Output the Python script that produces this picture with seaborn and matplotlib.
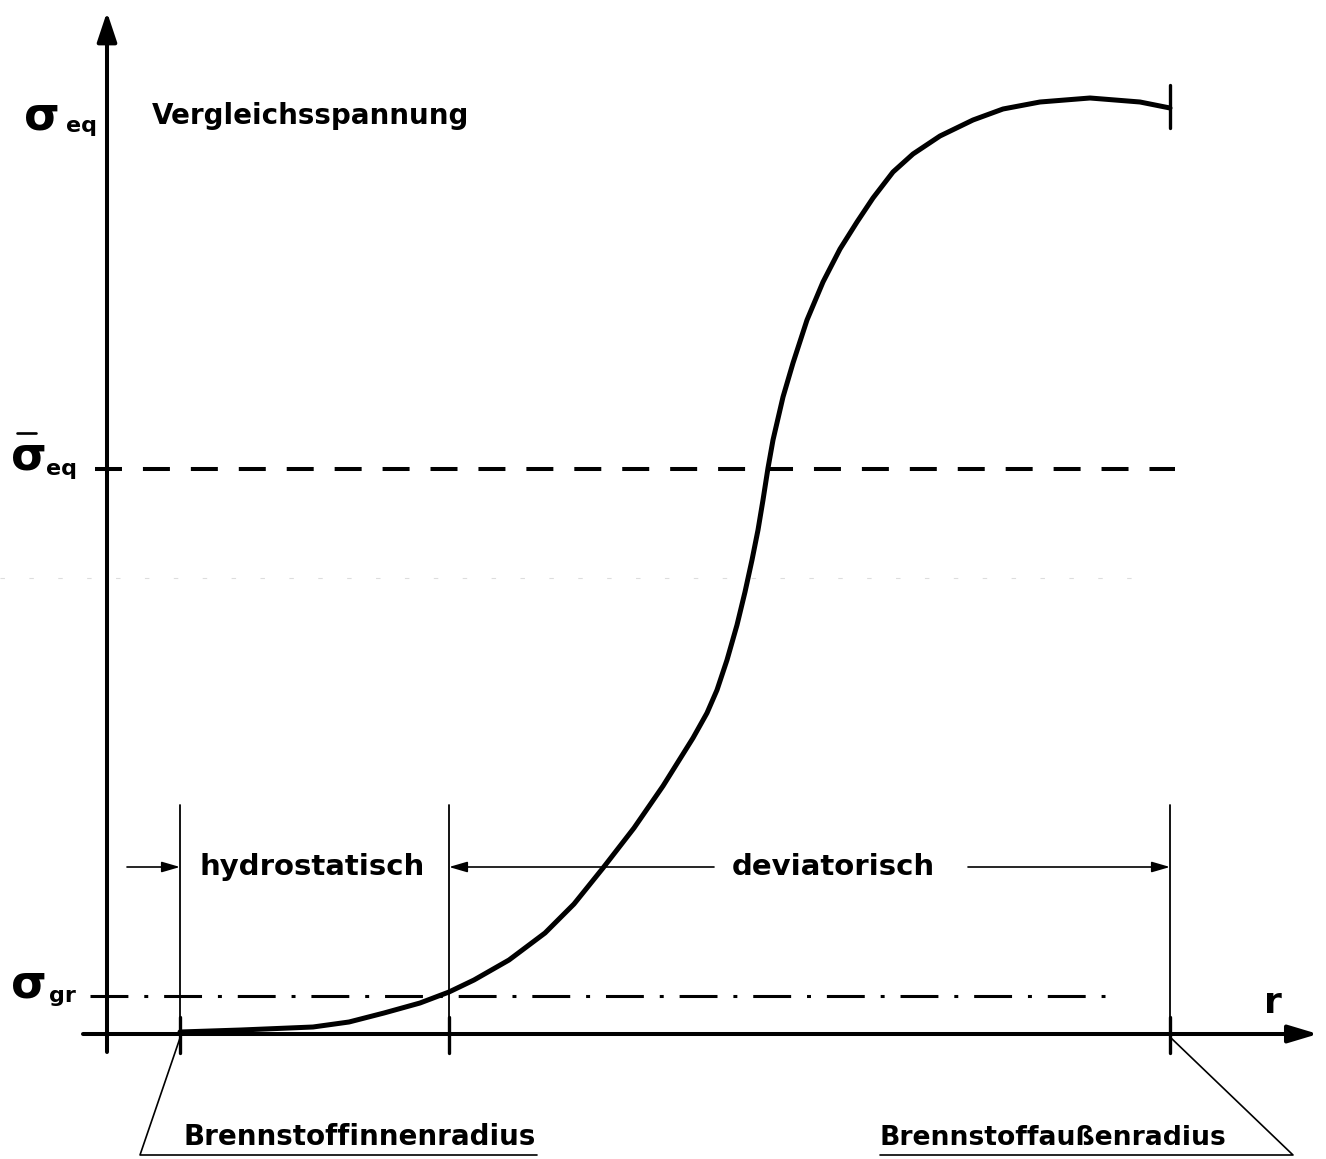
import matplotlib
matplotlib.use("Agg")
import matplotlib.pyplot as plt
import pandas as pd
import seaborn as sns

# ---------------- data (r and sigma in diagram units) ----------------
r_curve = [0.73, 1.34, 2.06, 2.42, 2.77, 3.13, 3.42, 3.67, 4.02, 4.38, 4.67,
           4.96, 5.27, 5.56, 5.86, 6.00, 6.10, 6.20, 6.30, 6.38, 6.45, 6.51,
           6.56, 6.61, 6.66, 6.76, 6.86, 7.00, 7.16, 7.33, 7.50, 7.66, 7.86,
           8.06, 8.33, 8.66, 8.96, 9.33, 9.83, 10.33, 10.63]
sigma_curve = [0.02, 0.04, 0.07, 0.12, 0.21, 0.31, 0.42, 0.54, 0.74, 1.01, 1.30,
               1.66, 2.06, 2.48, 2.96, 3.21, 3.44, 3.74, 4.09, 4.42, 4.74, 5.04,
               5.34, 5.66, 5.94, 6.37, 6.71, 7.14, 7.52, 7.85, 8.12, 8.36, 8.62,
               8.80, 8.98, 9.14, 9.25, 9.32, 9.36, 9.32, 9.26]

r_inner = 0.73        # Brennstoffinnenradius
r_boundary = 3.42     # hydrostatisch / deviatorisch boundary
r_outer = 10.63       # Brennstoffaußenradius
sigma_eq_mean = 5.65  # mean equivalent stress
sigma_gr = 0.38       # limit stress

title_text = "Vergleichsspannung"
zone_labels = ["hydrostatisch", "deviatorisch"]
radius_labels = ["Brennstoffinnenradius", "Brennstoffaußenradius"]
axis_label_r = "r"

# ---------------- figure ----------------
sns.set_theme(style="white")
plt.rcParams['font.family'] = ['DejaVu Sans']

fig = plt.figure(figsize=(13.26, 11.59), dpi=100)
ax = fig.add_axes([0, 0, 1, 1])
ax.set_xlim(-1.07, 12.19)
ax.set_ylim(-1.25, 10.34)
ax.axis('off')

# curve
df = pd.DataFrame({"r": r_curve, "sigma": sigma_curve})
sns.lineplot(data=df, x="r", y="sigma", sort=False, estimator=None,
             color="black", lw=3.6, ax=ax, solid_capstyle="round",
             solid_joinstyle="round")

# axes with arrows
ax.annotate("", xy=(0, 10.22), xytext=(0, -0.18),
            arrowprops=dict(arrowstyle="-|>,head_length=0.6,head_width=0.2",
                            lw=2.9, color="black", mutation_scale=30,
                            shrinkA=0, shrinkB=0))
ax.annotate("", xy=(12.11, 0), xytext=(-0.24, 0),
            arrowprops=dict(arrowstyle="-|>,head_length=0.6,head_width=0.18",
                            lw=2.9, color="black", mutation_scale=30,
                            shrinkA=0, shrinkB=0))

# reference lines
ax.plot([-0.12, r_outer + 0.05], [sigma_eq_mean, sigma_eq_mean], color="black",
        lw=2.9, dashes=(6.7, 5.2), solid_capstyle="butt")
ax.plot([-0.17, 9.98], [sigma_gr, sigma_gr], color="black", lw=2.2,
        dashes=(12.4, 5.2, 1.3, 5.2))
# faint scan line
ax.plot([-1.07, 10.3], [4.56, 4.56], color="#dddddd", lw=0.8, dashes=(4, 22))

# vertical region lines
for rv in [r_inner, r_boundary, r_outer]:
    ax.plot([rv, rv], [-0.19, 2.29], color="black", lw=1.3)
    ax.plot([rv, rv], [-0.19, 0.17], color="black", lw=2.4)
# end marker at outer radius
ax.plot([r_outer, r_outer], [9.06, 9.49], color="black", lw=2.4)

# zone arrows
arrow_kw = dict(arrowstyle="-|>,head_length=0.55,head_width=0.16", lw=1.2,
                color="black", mutation_scale=20, shrinkA=0, shrinkB=0)
y_arr = 1.67
ax.annotate("", xy=(r_inner, y_arr), xytext=(0.20, y_arr), arrowprops=arrow_kw)
ax.annotate("", xy=(r_boundary, y_arr), xytext=(6.07, y_arr), arrowprops=arrow_kw)
ax.annotate("", xy=(r_outer, y_arr), xytext=(8.61, y_arr), arrowprops=arrow_kw)

txt = dict(color="black", fontweight="bold", va="baseline")
ax.text(2.05, 1.59, zone_labels[0], fontsize=21, ha="center", **txt)
ax.text(7.26, 1.59, zone_labels[1], fontsize=21, ha="center", **txt)

# title
ax.text(0.45, 9.10, title_text, fontsize=20, ha="left", **txt)

# sigma labels
ax.text(-0.83, 9.04, "σ", fontsize=33, ha="left", **txt)
ax.text(-0.41, 9.02, "eq", fontsize=16, ha="left", **txt)

ax.text(-0.96, 5.64, "σ", fontsize=33, ha="left", **txt)
ax.text(-0.61, 5.59, "eq", fontsize=16, ha="left", **txt)
ax.plot([-0.90, -0.71], [6.01, 6.01], color="black", lw=1.9)

ax.text(-0.96, 0.37, "σ", fontsize=33, ha="left", **txt)
ax.text(-0.58, 0.32, "gr", fontsize=16, ha="left", **txt)

ax.text(11.66, 0.21, axis_label_r, fontsize=26, ha="center", **txt)

# radius labels with leader lines and underline
ax.text(0.77, -1.11, radius_labels[0], fontsize=20, ha="left", **txt)
ax.plot([r_inner, 0.33, 4.30], [-0.04, -1.21, -1.21], color="black", lw=1.2)

ax.text(7.73, -1.11, radius_labels[1], fontsize=19.2, ha="left", **txt)
ax.plot([r_outer, 11.86, 7.73], [-0.03, -1.21, -1.21], color="black", lw=1.2)

fig.savefig("out.png", dpi=100, facecolor="white")
